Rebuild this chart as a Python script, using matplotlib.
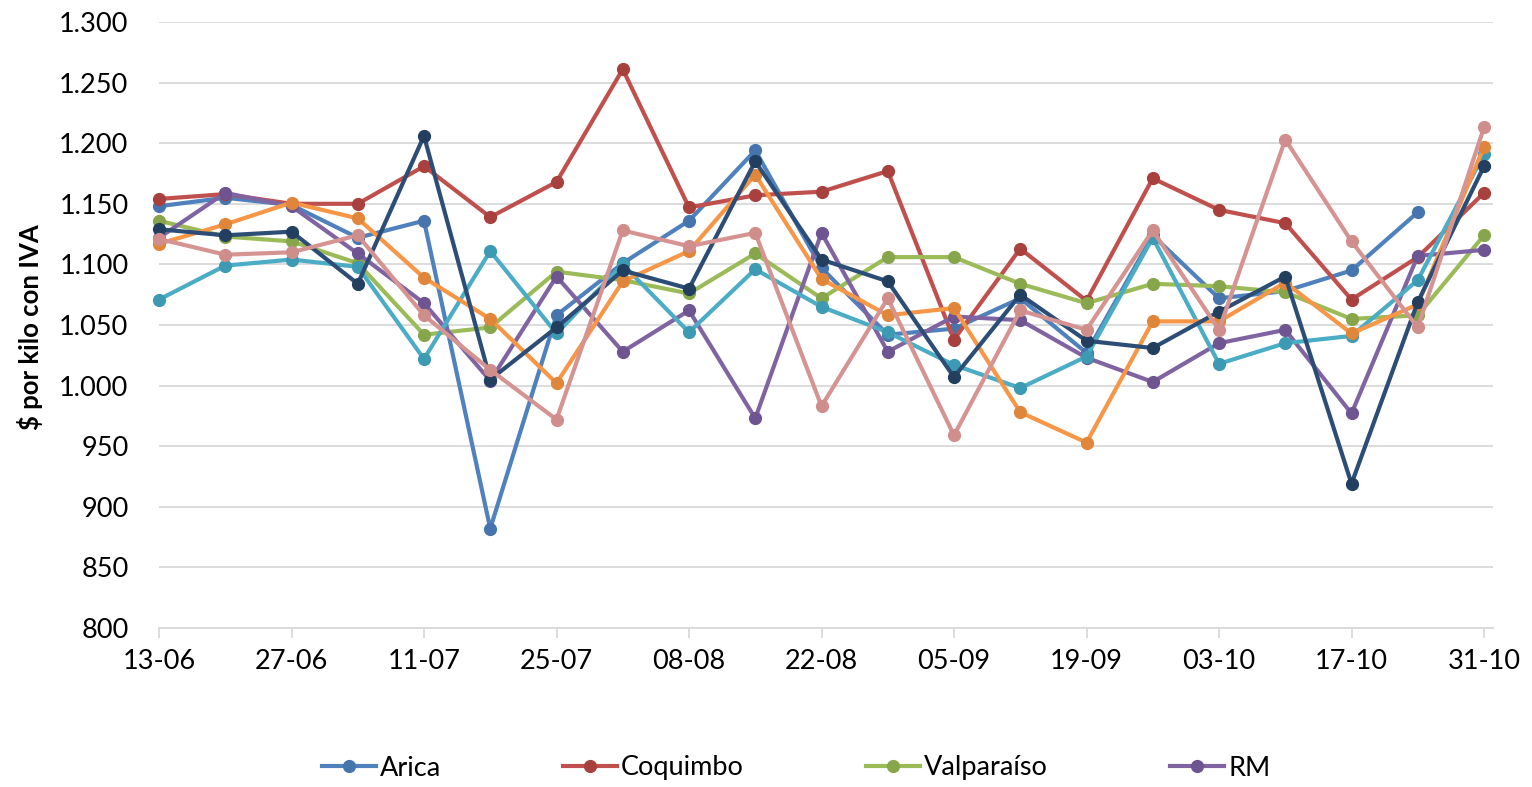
import numpy as np
import matplotlib
matplotlib.use("Agg")
import matplotlib.pyplot as plt
from matplotlib.ticker import FuncFormatter, MultipleLocator, FixedLocator

plt.rcParams['font.family'] = ['Lato', 'DejaVu Sans']

dates = ['13-06', '20-06', '27-06', '04-07', '11-07', '18-07', '25-07', '01-08',
         '08-08', '15-08', '22-08', '29-08', '05-09', '12-09', '19-09', '26-09',
         '03-10', '10-10', '17-10', '24-10', '31-10']

arica = [1148, 1155, 1149, 1122, 1136, 882, 1058, 1101, 1136, 1194, 1097, 1042,
         1047, 1072, 1027, 1124, 1072, 1078, 1095, 1143, np.nan]
coquimbo = [1154, 1158, 1150, 1150, 1181, 1139, 1168, 1261, 1147, 1157, 1160, 1177,
            1038, 1113, 1070, 1171, 1145, 1134, 1071, 1106, 1159]
valparaiso = [1136, 1123, 1119, 1101, 1042, 1048, 1094, 1087, 1076, 1109, 1072, 1106,
              1106, 1084, 1068, 1084, 1082, 1077, 1055, 1058, 1124]
rm = [1122, 1159, 1148, 1109, 1068, 1004, 1090, 1028, 1062, 973, 1126, 1028,
      1057, 1054, 1023, 1003, 1035, 1046, 977, 1107, 1112]
serie5 = [1071, 1099, 1104, 1098, 1022, 1111, 1043, 1100, 1044, 1096, 1065, 1044,
          1017, 998, 1024, 1122, 1018, 1035, 1041, 1087, 1191]
serie6 = [1117, 1133, 1151, 1138, 1089, 1055, 1002, 1086, 1111, 1174, 1088, 1058,
          1064, 978, 953, 1053, 1053, 1085, 1043, 1067, 1197]
serie7 = [1129, 1124, 1127, 1084, 1206, 1005, 1048, 1095, 1080, 1185, 1104, 1086,
          1007, 1075, 1037, 1031, 1061, 1090, 919, 1069, 1181]
serie8 = [1121, 1108, 1110, 1124, 1058, 1013, 972, 1128, 1115, 1126, 983, 1072,
          959, 1062, 1046, 1128, 1046, 1203, 1119, 1048, 1213]

series = [
    ("Arica", arica, '#4F81BD', '#4674AD'),
    ("Coquimbo", coquimbo, '#C0504D', '#A8403D'),
    ("Valparaíso", valparaiso, '#9BBB59', '#87A54A'),
    ("RM", rm, '#8064A2', '#6E5490'),
    ("Serie 5", serie5, '#4BACC6', '#3C9AB2'),
    ("Serie 6", serie6, '#F79646', '#E0863A'),
    ("Serie 7", serie7, '#2C4D75', '#233F60'),
    ("Serie 8", serie8, '#D59492', '#CF8E8C'),
]

W, H = 1532, 787
fig = plt.figure(figsize=(W / 100, H / 100), dpi=100)
left, right, top, bottom = 159, 1493, 22, 628
ax = fig.add_axes([left / W, 1 - bottom / H, (right - left) / W, (bottom - top) / H])

x = np.arange(len(dates))
handles = []
for name, vals, lc, mc in series:
    h, = ax.plot(x, vals, color=lc, lw=3.0, marker='o', markersize=8.5,
                 markerfacecolor=mc, markeredgecolor=mc, label=name,
                 solid_joinstyle='round', clip_on=False)
    handles.append(h)

ax.set_xlim(0, 20 + 9 / 66.27)
ax.set_ylim(800, 1300)
ax.yaxis.set_major_locator(MultipleLocator(50))
ax.yaxis.set_major_formatter(FuncFormatter(lambda v, p: f"{v:,.0f}".replace(",", ".")))
ax.xaxis.set_major_locator(FixedLocator(x[::2]))
ax.set_xticklabels(dates[::2])

ax.grid(axis='y', color='#D9D9D9', lw=1.3)
ax.set_axisbelow(True)
for s in ['top', 'right', 'left']:
    ax.spines[s].set_visible(False)
ax.spines['bottom'].set_color('#D9D9D9')
ax.spines['bottom'].set_linewidth(1.3)
ax.tick_params(axis='y', length=0, pad=22, labelsize=19.5, labelcolor='black')
ax.tick_params(axis='x', length=7, width=1.3, color='#D9D9D9', pad=8,
               labelsize=19.5, labelcolor='black')

fig.text(30 / W, 1 - 327 / H, "$ por kilo con IVA", rotation=90, ha='center',
         va='center', fontsize=18.5, fontweight='bold')

leg = fig.legend(handles=handles[:4], loc='center', ncol=4,
                 bbox_to_anchor=(796 / W, 1 - 768 / H), frameon=False,
                 fontsize=19.5, handlelength=2.0, handletextpad=0.15,
                 columnspacing=4.5, borderaxespad=0)

fig.savefig("out.png", dpi=100)
